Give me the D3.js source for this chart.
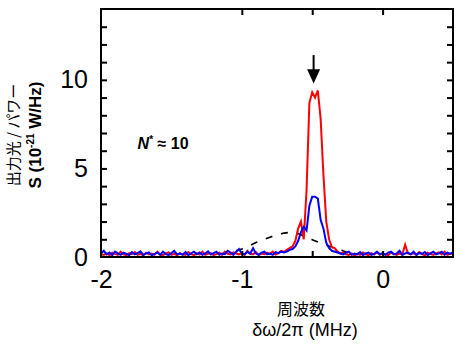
<!DOCTYPE html>
<html>
<head>
<meta charset="utf-8">
<script src="https://cdn.jsdelivr.net/npm/d3@7"></script>
<style>
  body { margin: 0; background: #fff; }
  svg { display: block; }
  text { font-family: "Liberation Sans", Arial, sans-serif; }
  .jp { font-family: "Noto Sans CJK JP", sans-serif; }
</style>
</head>
<body>
<div id="chart"></div>
<script>
// frequency grid (MHz), step 0.02 from -2 to 0.5
var freqStart = -2, freqStep = 0.02;

// red trace, S (10^-21 W/Hz)
var redValues = [
  0.15, 0.12, 0.2, 0.1, 0.25, 0.18, 0.12, 0.3, 0.15, 0.1,
  0.22, 0.16, 0.28, 0.12, 0.18, 0.1, 0.24, 0.15, 0.2, 0.12,
  0.3, 0.14, 0.1, 0.2, 0.26, 0.12, 0.18, 0.1, 0.22, 0.15,
  0.12, 0.28, 0.16, 0.1, 0.2, 0.14, 0.3, 0.12, 0.18, 0.22,
  0.1, 0.16, 0.24, 0.12, 0.3, 0.18, 0.14, 0.26, 0.2, 0.15,
  0.22, 0.12, 0.35, 0.18, 0.15, 0.28, 0.1, 0.2, 0.16, 0.25,
  0.18, 0.3, 0.14, 0.22, 0.35, 0.28, 0.4, 0.5, 0.6, 0.9,
  1.6, 2.0, 1.0, 3.8, 8.7, 9.3, 9.0, 9.4, 7.8, 4.6, 2.0, 1.0, 0.55, 0.5, 0.3,
  0.2, 0.25, 0.15, 0.12, 0.2, 0.1,
  0.18, 0.12, 0.25, 0.15, 0.1, 0.22, 0.14, 0.28, 0.12,
  0.2, 0.15, 0.1, 0.25, 0.18, 0.12, 0.2, 0.14, 0.7, 0.2,
  0.15, 0.22, 0.12, 0.28, 0.16, 0.1, 0.24, 0.18, 0.12, 0.2,
  0.26, 0.14, 0.3, 0.12, 0.18, 0.22
];

// blue trace
var blueValues = [
  0.2, 0.35, 0.15, 0.25, 0.1, 0.3, 0.2, 0.12, 0.25, 0.18,
  0.1, 0.28, 0.15, 0.22, 0.32, 0.12, 0.2, 0.26, 0.1, 0.18,
  0.25, 0.12, 0.3, 0.16, 0.1, 0.22, 0.35, 0.15, 0.2, 0.12,
  0.28, 0.1, 0.2, 0.3, 0.15, 0.25, 0.12, 0.2, 0.32, 0.14,
  0.22, 0.3, 0.12, 0.2, 0.16, 0.35, 0.25, 0.12, 0.3, 0.45,
  0.2, 0.15, 0.3, 0.18, 0.5, 0.2, 0.12, 0.25, 0.3, 0.15,
  0.2, 0.12, 0.28, 0.22, 0.3, 0.25, 0.3, 0.4, 0.45, 0.6,
  0.9, 1.4, 1.7, 1.5, 2.9, 3.4, 3.4, 3.3, 2.1, 1.6, 0.8, 0.5, 0.35, 0.3, 0.25,
  0.2, 0.15, 0.25, 0.3, 0.12, 0.2,
  0.15, 0.28, 0.1, 0.2, 0.25, 0.12, 0.18, 0.3, 0.15,
  0.22, 0.12, 0.25, 0.3, 0.15, 0.2, 0.35, 0.12, 0.2, 0.25,
  0.15, 0.3, 0.12, 0.22, 0.18, 0.28, 0.1, 0.2, 0.3, 0.15,
  0.2, 0.3, 0.12, 0.25, 0.18, 0.28
];

// dashed black curve
var dashedFreq = [-1.04, -1.0, -0.95, -0.9, -0.85, -0.8, -0.75, -0.7, -0.65, -0.6, -0.55, -0.5, -0.45, -0.4, -0.35, -0.3, -0.25, -0.2];
var dashedValues = [0.35, 0.45, 0.62, 0.82, 0.98, 1.12, 1.25, 1.35, 1.4, 1.32, 1.15, 0.98, 0.82, 0.68, 0.52, 0.4, 0.25, 0.1];

var xTickLabels = [-2, -1, 0];
var xTickMarks = [-1, -0.5, 0];
var yTickLabels = [0, 5, 10];
var yTickMarks = [1, 2, 3, 4, 5, 6, 7, 8, 9, 10, 11, 12, 13];
var arrowFreq = -0.49;

var margin = { top: 9, right: 7, bottom: 93, left: 101 };
var width = 460 - margin.left - margin.right;
var height = 350 - margin.top - margin.bottom;

var svg = d3.select("#chart")
    .append("svg")
    .attr("width", 460)
    .attr("height", 350);

var g = svg.append("g")
    .attr("transform", "translate(" + margin.left + "," + margin.top + ")");

var x = d3.scaleLinear().domain([-2, 0.5]).range([0, width]);
var y = d3.scaleLinear().domain([0, 14]).range([height, 0]);

g.append("clipPath").attr("id", "clip")
    .append("rect").attr("width", width).attr("height", height + 1);

function toPoints(values) {
    return values.map(function (v, i) { return [freqStart + i * freqStep, v]; });
}

var line = d3.line()
    .x(function (d) { return x(d[0]); })
    .y(function (d) { return y(d[1]); });

var plot = g.append("g").attr("clip-path", "url(#clip)");

plot.append("path")
    .datum(dashedFreq.map(function (f, i) { return [f, dashedValues[i]]; }))
    .attr("d", line)
    .attr("fill", "none")
    .attr("stroke", "#000")
    .attr("stroke-width", 1.6)
    .attr("stroke-dasharray", "7,9");

plot.append("path")
    .datum(toPoints(redValues))
    .attr("d", line)
    .attr("fill", "none")
    .attr("stroke", "#ff0000")
    .attr("stroke-width", 2);

plot.append("path")
    .datum(toPoints(blueValues))
    .attr("d", line)
    .attr("fill", "none")
    .attr("stroke", "#0000ff")
    .attr("stroke-width", 2);

// inward tick marks on all four sides
function tickOnly(axis) {
    return axis.tickSize(-6).tickFormat("");
}
g.append("g").attr("class", "ticks")
    .attr("transform", "translate(0," + height + ")")
    .call(tickOnly(d3.axisBottom(x).tickValues(xTickMarks)));
g.append("g").attr("class", "ticks")
    .call(tickOnly(d3.axisTop(x).tickValues(xTickMarks)));
g.append("g").attr("class", "ticks")
    .call(tickOnly(d3.axisLeft(y).tickValues(yTickMarks)));
g.append("g").attr("class", "ticks")
    .attr("transform", "translate(" + width + ",0)")
    .call(tickOnly(d3.axisRight(y).tickValues(yTickMarks)));
g.selectAll(".ticks .domain").remove();
g.selectAll(".ticks line").attr("stroke", "#000").attr("stroke-width", 2);

// tick labels
var xLab = g.append("g")
    .attr("transform", "translate(0," + height + ")")
    .call(d3.axisBottom(x).tickValues(xTickLabels).tickSize(0).tickPadding(13)
        .tickFormat(function (d) { return d < 0 ? "-" + Math.abs(d) : d; }));
xLab.select(".domain").remove();
xLab.selectAll("text").attr("font-size", 25).attr("font-family", "Liberation Sans, Arial, sans-serif").attr("fill", "#000");

var yLab = g.append("g")
    .call(d3.axisLeft(y).tickValues(yTickLabels).tickSize(0).tickPadding(13));
yLab.select(".domain").remove();
yLab.selectAll("text").attr("font-size", 25).attr("font-family", "Liberation Sans, Arial, sans-serif").attr("fill", "#000");

// frame
g.append("rect")
    .attr("width", width)
    .attr("height", height)
    .attr("fill", "none")
    .attr("stroke", "#000")
    .attr("stroke-width", 2);

// arrow above the peak
var ax = x(arrowFreq);
g.append("line")
    .attr("x1", ax).attr("x2", ax)
    .attr("y1", y(11.4)).attr("y2", y(10.4))
    .attr("stroke", "#000").attr("stroke-width", 2);
g.append("path")
    .attr("d", "M" + (ax - 6.5) + "," + y(10.6) + "L" + (ax + 6.5) + "," + y(10.6) + "L" + ax + "," + y(9.8) + "Z")
    .attr("fill", "#000");

// N* annotation
var note = g.append("text")
    .attr("x", x(-1.74))
    .attr("y", y(6.1))
    .attr("font-size", 16)
    .attr("font-weight", "bold");
note.append("tspan").attr("font-style", "italic").text("N");
note.append("tspan").attr("font-size", 10).attr("dy", -6).text("*");
note.append("tspan").attr("dy", 6).text(" \u2248 10");

// axis titles
svg.append("text")
    .attr("class", "jp")
    .attr("x", 301).attr("y", 315)
    .attr("text-anchor", "middle")
    .attr("font-size", 16)
    .text("周波数");
svg.append("text")
    .attr("x", 305).attr("y", 336)
    .attr("text-anchor", "middle")
    .attr("font-size", 18)
    .text("δω/2π (MHz)");

svg.append("text")
    .attr("class", "jp")
    .attr("transform", "translate(19,135) rotate(-90)")
    .attr("text-anchor", "middle")
    .attr("font-size", 15)
    .text("出力光 / パワー");
var yt = svg.append("text")
    .attr("transform", "translate(41,135) rotate(-90)")
    .attr("text-anchor", "middle")
    .attr("font-size", 17)
    .attr("font-weight", "bold");
yt.append("tspan").text("S (10");
yt.append("tspan").attr("font-size", 10).attr("dy", -7).text("-21");
yt.append("tspan").attr("dy", 7).text(" W/Hz)");
</script>
</body>
</html>
